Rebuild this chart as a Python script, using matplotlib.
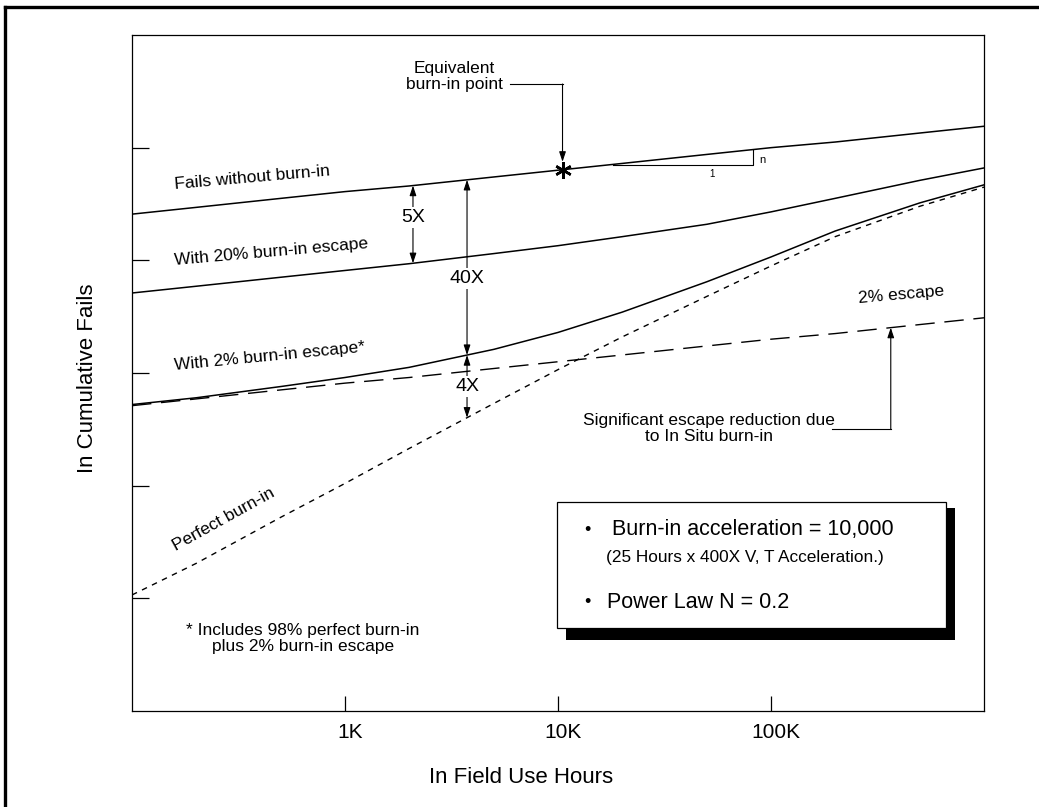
import numpy as np
import matplotlib.pyplot as plt
import matplotlib.transforms as mtransforms
from matplotlib.patches import Rectangle
from matplotlib.lines import Line2D

plt.rcParams['font.family'] = ['Liberation Sans', 'DejaVu Sans']

# in-field use hours (log axis) and ln cumulative fails (arbitrary decade units)
hours = [100, 200, 500, 1e3, 2e3, 5e3, 1e4, 2e4, 5e4, 1e5, 2e5, 5e5, 1e6]
no_burnin = [4.41, 4.47, 4.55, 4.61, 4.66, 4.74, 4.80, 4.86, 4.94, 5.00, 5.05, 5.13, 5.19]
escape_20 = [3.71, 3.77, 3.85, 3.91, 3.97, 4.06, 4.13, 4.21, 4.32, 4.43, 4.55, 4.71, 4.82]
escape_2_total = [2.72, 2.78, 2.88, 2.96, 3.05, 3.21, 3.36, 3.54, 3.81, 4.03, 4.26, 4.51, 4.67]
escape_2_only = [2.71, 2.77, 2.85, 2.91, 2.96, 3.04, 3.10, 3.16, 3.24, 3.30, 3.35, 3.43, 3.49]
perfect = [1.03, 1.31, 1.72, 2.02, 2.33, 2.73, 3.03, 3.32, 3.68, 3.95, 4.21, 4.48, 4.65]

xtick_pos = [1e3, 1e4, 1e5]
xtick_labels = ['1K', '10K', '100K']
ytick_pos = [1, 2, 3, 4, 5]

equiv_h = 10500      # equivalent burn-in point
h_5x = 2085          # where the 5X arrow sits
h_40x = 3740         # where the 40X / 4X arrows sit
h_sig = 365000       # where the in-situ arrow hits the 2% line


def at(series, h):
    return np.interp(np.log10(h), np.log10(hours), series)


fig = plt.figure(figsize=(10.39, 8.07), dpi=100)
ax = fig.add_axes([0.12705, 0.11896, 0.82002, 0.83767])

ax.plot(hours, no_burnin, color='k', lw=1.1)
ax.plot(hours, escape_20, color='k', lw=1.1)
ax.plot(hours, escape_2_total, color='k', lw=1.1)
ax.plot(hours, escape_2_only, color='k', lw=1.0, dashes=(14, 7))
ax.plot(hours, perfect, color='k', lw=1.0, dashes=(4, 4))

ax.set_xscale('log')
ax.set_xlim(100, 1e6)
ax.set_ylim(0, 6)
ax.set_xticks(xtick_pos)
ax.set_xticklabels(xtick_labels)
ax.xaxis.set_minor_locator(plt.NullLocator())
ax.set_yticks(ytick_pos)
ax.set_yticklabels([])
ax.tick_params(axis='x', direction='in', length=11, width=0.9, labelsize=15, pad=9)
ax.tick_params(axis='y', direction='in', length=12.5, width=0.9)
for s in ax.spines.values():
    s.set_linewidth(0.9)
shift = mtransforms.ScaledTranslation(5 / 100, 0, fig.dpi_scale_trans)
for lab in ax.get_xticklabels():
    lab.set_transform(lab.get_transform() + shift)

ax.text(-0.0528, 0.4926, 'In Cumulative Fails', rotation=90, ha='center', va='center',
        fontsize=16, transform=ax.transAxes)
ax.text(0.4566, -0.0991, 'In Field Use Hours', ha='center', va='center',
        fontsize=16, transform=ax.transAxes)

# curve labels
ax.text(366, 4.73, 'Fails without burn-in', rotation=5, ha='center', va='center', fontsize=12.5)
ax.text(450, 4.07, 'With 20% burn-in escape', rotation=5, ha='center', va='center', fontsize=12.5)
ax.text(445, 3.15, 'With 2% burn-in escape*', rotation=5.5, ha='center', va='center', fontsize=12.5)
ax.text(270, 1.70, 'Perfect burn-in', rotation=29, ha='center', va='center', fontsize=12.5)
ax.text(407000, 3.69, '2% escape', rotation=5, ha='center', va='center', fontsize=12.5)
ax.text(635, 0.64, '* Includes 98% perfect burn-in\nplus 2% burn-in escape',
        ha='center', va='center', fontsize=12.5, linespacing=1.1)

# equivalent burn-in point
ax.plot(equiv_h, at(no_burnin, equiv_h), marker=(6, 2, 0), ms=12, mew=1.8, color='k', zorder=4)
ax.text(3250, 5.63, 'Equivalent\nburn-in point', ha='center', va='center', fontsize=12.5,
        linespacing=1.1)
ax.plot([5960, equiv_h], [5.565, 5.565], color='k', lw=0.8)
arrow = dict(arrowstyle='-|>,head_length=0.6,head_width=0.2', color='k', lw=0.8,
             shrinkA=0, shrinkB=0, mutation_scale=10)
ax.annotate('', xy=(equiv_h, at(no_burnin, equiv_h) + 0.07), xytext=(equiv_h, 5.565),
            arrowprops=arrow)

# slope triangle
ax.plot([18100, 82200, 82200], [4.85, 4.85, at(no_burnin, 82200)], color='k', lw=0.8)
ax.text(88000, 4.89, 'n', ha='left', va='center', fontsize=8)
ax.text(52800, 4.765, '1', ha='center', va='center', fontsize=7)

# ratio arrows
dbl = dict(arrowstyle='<|-|>,head_length=0.6,head_width=0.2', color='k', lw=0.8,
           shrinkA=0, shrinkB=0, mutation_scale=10)
box = dict(fc='white', ec='none', pad=1.5)
ax.annotate('', xy=(h_5x, at(no_burnin, h_5x)), xytext=(h_5x, at(escape_20, h_5x)), arrowprops=dbl)
ax.text(h_5x, 4.38, '5X', ha='center', va='center', fontsize=14, bbox=box)
ax.annotate('', xy=(h_40x, at(no_burnin, h_40x)), xytext=(h_40x, at(escape_2_total, h_40x)),
            arrowprops=dbl)
ax.text(h_40x, 3.84, '40X', ha='center', va='center', fontsize=14, bbox=box)
ax.annotate('', xy=(h_40x, at(escape_2_total, h_40x)), xytext=(h_40x, at(perfect, h_40x)),
            arrowprops=dbl)
ax.text(h_40x, 2.88, '4X', ha='center', va='center', fontsize=14, bbox=box)

# in situ note
ax.text(51200, 2.51, 'Significant escape reduction due\nto In Situ burn-in', ha='center',
        va='center', fontsize=12.5, linespacing=1.1)
ax.plot([193000, h_sig], [2.503, 2.503], color='k', lw=0.8)
ax.annotate('', xy=(h_sig, at(escape_2_only, h_sig)), xytext=(h_sig, 2.503), arrowprops=arrow)

# info box with shadow
ax.add_patch(Rectangle((0.5094, 0.105), 0.4566, 0.1953, transform=ax.transAxes,
                       fc='k', ec='none', zorder=5, clip_on=False))
ax.add_patch(Rectangle((0.4988, 0.1228), 0.4566, 0.1864, transform=ax.transAxes,
                       fc='white', ec='k', lw=0.9, zorder=6, clip_on=False))
ax.text(0.534, 0.2663, '•', ha='center', va='center', fontsize=13, transform=ax.transAxes, zorder=7)
ax.text(0.5634, 0.2678, 'Burn-in acceleration = 10,000', ha='left', va='center', fontsize=15.5,
        transform=ax.transAxes, zorder=7)
ax.text(0.5563, 0.2278, '(25 Hours x 400X V, T Acceleration.)', ha='left', va='center',
        fontsize=12.4, transform=ax.transAxes, zorder=7)
ax.text(0.534, 0.1598, '•', ha='center', va='center', fontsize=13, transform=ax.transAxes, zorder=7)
ax.text(0.5575, 0.1612, 'Power Law N = 0.2', ha='left', va='center', fontsize=15.5,
        transform=ax.transAxes, zorder=7)

# page frame (top and left edges only)
fig.add_artist(Line2D([0.0048, 1], [0.9913, 0.9913], transform=fig.transFigure, color='k', lw=2.4))
fig.add_artist(Line2D([0.0048, 0.0048], [0, 0.9913], transform=fig.transFigure, color='k', lw=2.4))

fig.savefig('out.png', dpi=100)
